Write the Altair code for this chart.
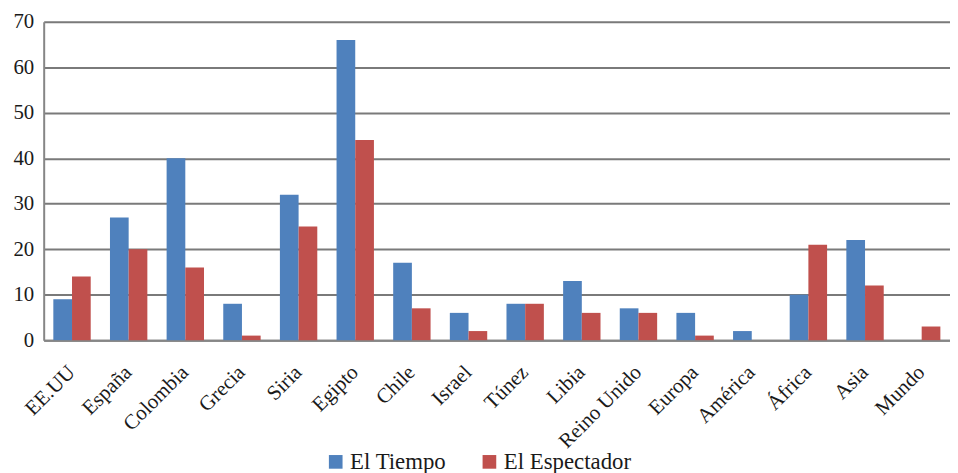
import altair as alt
import pandas as pd

categories = ["EE.UU", "España", "Colombia", "Grecia", "Siria", "Egipto", "Chile",
              "Israel", "Túnez", "Libia", "Reino Unido", "Europa", "América",
              "África", "Asia", "Mundo"]
el_tiempo = [9, 27, 40, 8, 32, 66, 17, 6, 8, 13, 7, 6, 2, 10, 22, 0]
el_espectador = [14, 20, 16, 1, 25, 44, 7, 2, 8, 6, 6, 1, 0, 21, 12, 3]
series = ["El Tiempo", "El Espectador"]
colors = ["#4F81BD", "#C0504D"]

rows = []
for c, a, b in zip(categories, el_tiempo, el_espectador):
    rows.append({"pais": c, "serie": series[0], "valor": a})
    rows.append({"pais": c, "serie": series[1], "valor": b})
df = pd.DataFrame(rows)

FONT = "'Liberation Serif', 'Times New Roman', Times, serif"

chart = alt.Chart(df).mark_bar().encode(
    x=alt.X("pais:N", sort=categories, title=None,
            scale=alt.Scale(paddingInner=0.34, paddingOuter=0.17),
            axis=alt.Axis(labelAngle=-45, labelAlign="right", labelBaseline="middle",
                          labelPadding=29, ticks=False, grid=False,
                          domainColor="#868686", domainWidth=2,
                          labelFont=FONT, labelFontSize=21, labelColor="#1a1a1a")),
    xOffset=alt.XOffset("serie:N", sort=series, scale=alt.Scale(paddingInner=0, paddingOuter=0)),
    y=alt.Y("valor:Q", title=None,
            scale=alt.Scale(domain=[0, 70], nice=False),
            axis=alt.Axis(values=[0, 10, 20, 30, 40, 50, 60, 70], ticks=False,
                          grid=True, gridColor="#7a7a7a", gridWidth=2,
                          domainColor="#868686", domainWidth=2,
                          labelPadding=10, labelFont=FONT, labelFontSize=21,
                          labelColor="#1a1a1a")),
    color=alt.Color("serie:N", sort=series, title=None,
                    scale=alt.Scale(domain=series, range=colors),
                    legend=alt.Legend(orient="none", legendX=283, legendY=432,
                                      direction="horizontal", symbolType="square",
                                      symbolSize=190, symbolStrokeWidth=0,
                                      labelFont=FONT, labelFontSize=23,
                                      labelColor="#1a1a1a", labelOffset=3,
                                      columnPadding=32)),
).properties(
    width=914, height=321,
    autosize=alt.AutoSizeParams(type="none"),
    padding={"left": 36, "top": 12, "right": 0, "bottom": 132},
).configure_view(stroke=None).configure(
    background="white", font=FONT
).configure_legend(labelFont=FONT).configure_axis(labelFont=FONT)

chart.save("out.html", embed_options={"renderer": "svg", "actions": False})
